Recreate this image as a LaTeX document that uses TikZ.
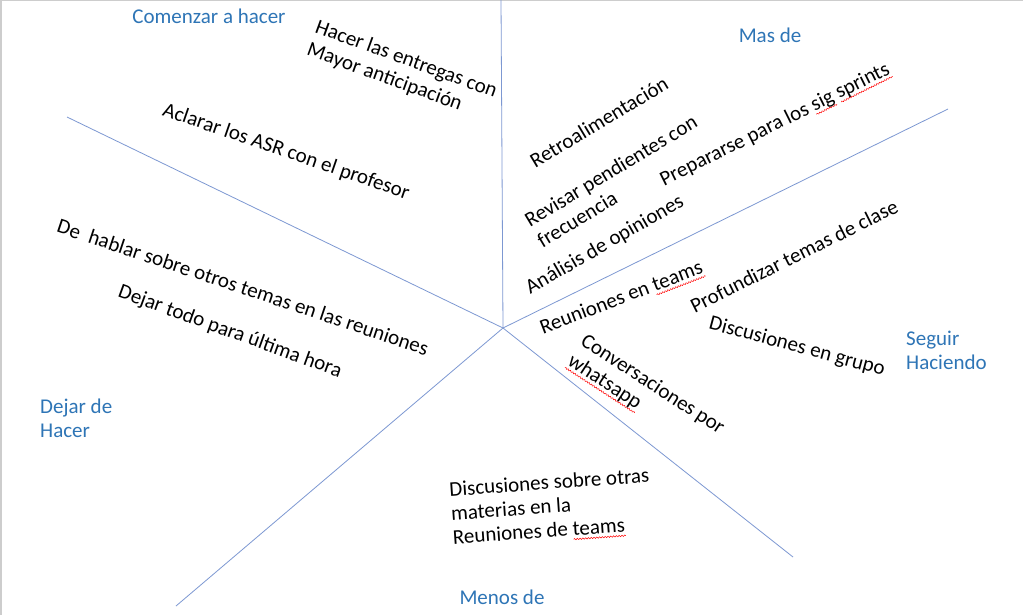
\documentclass[tikz,border=0pt]{standalone}
\usepackage{fontspec}
\setmainfont{Carlito}
\usetikzlibrary{decorations.pathmorphing}
\definecolor{lblue}{RGB}{46,117,182}
\definecolor{lline}{RGB}{125,152,210}
\definecolor{framegray}{RGB}{205,205,205}
\newlength\spellw
\newcommand\spell[1]{\settowidth\spellw{#1}\rlap{\smash{\raisebox{-4.5pt}{\tikz\draw[red,line width=0.5pt,decorate,decoration={snake,amplitude=0.7pt,segment length=2.8pt}] (0pt,0pt) -- (\spellw,0pt);}}}#1}
\begin{document}
\begin{tikzpicture}[x=1pt,y=-1pt,
  lab/.style={font=\fontsize{21}{24}\selectfont, text=lblue, inner sep=0pt, align=left},
  txt/.style={font=\fontsize{21}{24}\selectfont, text=black, inner sep=0pt, align=left},
  div/.style={draw=lline, line width=0.8pt}]
\useasboundingbox (0,0) rectangle (1023,615);
\fill[white] (0,0) rectangle (1023,615);
\draw[framegray, line width=1.5pt] (1.2,615) -- (1.2,0.7) -- (1023,0.7);
% divider lines
\coordinate (c) at (503,328);
\coordinate (n) at (501,0);
\coordinate (ul) at (67,117);
\coordinate (ur) at (948,109);
\coordinate (lr) at (793,557);
\coordinate (ll) at (176,606);
\draw[div] (c) -- (n);
\draw[div] (c) -- (ul);
\draw[div] (c) -- (ur);
\draw[div] (c) -- (lr);
\draw[div] (c) -- (ll);
% category labels
\node[lab] (comenzar) at (209,16) {Comenzar a hacer};
\node[lab] (mas) at (770,35) {Mas de};
\node[lab, anchor=west] (seguir) at (906,350) {Seguir\\Haciendo};
\node[lab, anchor=west] (dejar) at (40,418) {Dejar de\\Hacer};
\node[lab] (menos) at (502,597) {Menos de};
% items
\node[txt, rotate=-20] (t1) at (402,71) {Hacer las entregas con\\Mayor anticipación};
\node[txt, rotate=-19] (t2) at (286,152) {Aclarar los ASR con el profesor};
\node[txt, rotate=-18.5] (t3) at (243,287) {De\ \ hablar sobre otros temas en las reuniones};
\node[txt, rotate=-20] (t4) at (230,332) {Dejar todo para última hora};
\node[txt, rotate=31] (t5) at (599,122) {Retroalimentación};
\node[txt, rotate=31] (t6) at (617,181) {Revisar pendientes con\\frecuencia};
\node[txt, rotate=26.5] (t7) at (775,125) {Prepararse para los \spell{sig} \spell{sprints}};
\node[txt, rotate=30] (t8) at (605,245) {Análisis de opiniones};
\node[txt, rotate=21] (t9) at (621,297) {Reuniones en \spell{teams}};
\node[txt, rotate=26.5] (t10) at (794,256) {Profundizar temas de clase};
\node[txt, rotate=-15] (t11) at (797,347) {Discusiones en grupo};
\node[txt, rotate=-33] (t12) at (646,395) {Conversaciones por\\\spell{whatsapp}};
\node[txt, rotate=4] (t13) at (551,506) {Discusiones sobre otras\\materias en la\\Reuniones de \spell{teams}};
\end{tikzpicture}
\end{document}
